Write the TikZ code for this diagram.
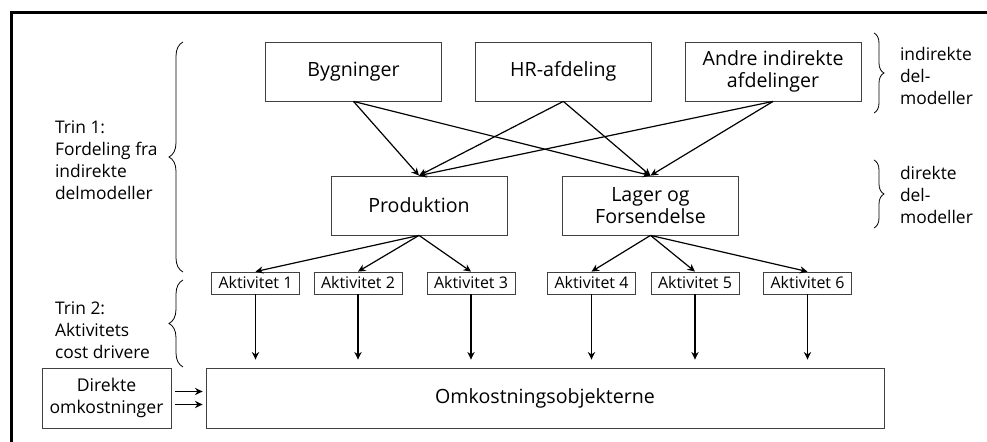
\documentclass[tikz,border=0pt]{standalone}
\usepackage{fontspec}
\setmainfont{Open Sans}
\usetikzlibrary{arrows.meta,positioning,decorations.pathreplacing}
\tikzset{
  unitbox/.style={draw=black!75, thin, minimum width=88pt, minimum height=29.5pt,
                  inner sep=2pt, align=center, font=\fontsize{9.8}{11}\selectfont},
  actbox/.style={draw=black!75, thin, minimum width=44pt, minimum height=11pt,
                 inner sep=0pt, font=\fontsize{8}{9}\selectfont},
  sidetext/.style={align=left, anchor=west, font=\fontsize{8.7}{11}\selectfont},
  fordarr/.style={-{Stealth[length=3.8pt,width=3.6pt]}, semithick},
  bracket/.style={decorate, decoration={brace, amplitude=#1}, thin},
  bracket/.default=6pt
}

\begin{document}
\begin{tikzpicture}[x=0.5pt, y=-0.5pt, node distance=16.5pt]
    \useasboundingbox (0,0) rectangle (987,442);
    \draw[line width=1.5pt] (11,442) -- (11,13) -- (987,13);

    \node[unitbox] (byg) at (353.5,71.5) {Bygninger};
    \node[unitbox, right=of byg] (hr) {HR-afdeling};
    \node[unitbox, right=of hr] (andre) {Andre indirekte\\afdelinger};

    \node[unitbox] (prod) at (419,205.5) {Produktion};
    \node[unitbox] (lager) at (650.5,205.5) {Lager og\\Forsendelse};

    \node[actbox] (a1) at (255.5,283) {Aktivitet 1};
    \node[actbox] (a2) at (358,283) {Aktivitet 2};
    \node[actbox] (a3) at (471,283) {Aktivitet 3};
    \node[actbox] (a4) at (591.5,283) {Aktivitet 4};
    \node[actbox] (a5) at (695,283) {Aktivitet 5};
    \node[actbox] (a6) at (807.5,283) {Aktivitet 6};

    \node[unitbox, minimum width=339pt, minimum height=30pt] (omk) at (545,398) {Omkostningsobjekterne};
    \node[unitbox, minimum width=64.5pt, minimum height=30pt, font=\fontsize{8.8}{11}\selectfont] (dir) at (106.5,398) {Direkte\\omkostninger};

    \foreach \s in {byg,hr,andre}
      \foreach \t in {prod,lager}
        \draw[fordarr] (\s.south) -- (\t.north);
    \foreach \t in {a1,a2,a3}
      \draw[fordarr] (prod.south) -- (\t.north);
    \foreach \t in {a4,a5,a6}
      \draw[fordarr] (lager.south) -- (\t.north);
    \foreach \t in {a1,a2,a3,a4,a5,a6}
      \draw[fordarr, shorten >=4pt] (\t.south) -- (\t.south |- omk.north);

    \draw[fordarr, shorten <=2pt, shorten >=1.5pt] ([yshift=3.25pt]dir.east) -- ([yshift=3.25pt]dir.east -| omk.west);
    \draw[fordarr, shorten <=2pt, shorten >=1.5pt] ([yshift=-3.25pt]dir.east) -- ([yshift=-3.25pt]dir.east -| omk.west);

    \draw[bracket=7pt] (183,272) -- (183,42);
    \draw[bracket=7pt] (183,367) -- (183,280);
    \draw[bracket=5pt] (874,33) -- (874,113);
    \draw[bracket=5pt] (874,160) -- (874,228);

    \node[sidetext] (trin1) at (48,160) {Trin 1:\\Fordeling fra\\indirekte\\delmodeller};
    \node[sidetext] (trin2) at (48,330) {Trin 2:\\Aktivitets\\cost drivere};
    \node[sidetext] (indir) at (893,76) {indirekte\\del-\\modeller};
    \node[sidetext] (direk) at (893,195) {direkte\\del-\\modeller};
\end{tikzpicture}
\end{document}
